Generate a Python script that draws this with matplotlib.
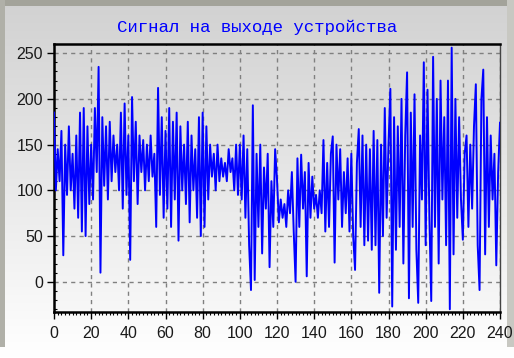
import numpy as np
import matplotlib
matplotlib.use("Agg")
import matplotlib.pyplot as plt
from matplotlib.patches import Rectangle
from matplotlib.ticker import MultipleLocator

title = "Сигнал на выходе устройства"
x_ticks = [0, 20, 40, 60, 80, 100, 120, 140, 160, 180, 200, 220, 240]
y_ticks = [0, 50, 100, 150, 200, 250]

signal = [
    185, 100, 145, 110, 165, 29, 150, 95, 170, 100,
    140, 80, 160, 70, 185, 55, 190, 50, 170, 85,
    150, 90, 190, 120, 235, 10, 180, 105, 170, 90,
    175, 110, 160, 120, 150, 100, 185, 80, 195, 95,
    160, 24, 202, 110, 175, 85, 160, 120, 155, 100,
    150, 110, 160, 115, 140, 60, 212, 95, 180, 70,
    165, 80, 190, 60, 175, 90, 185, 45, 170, 100,
    150, 85, 175, 65, 160, 100, 145, 70, 180, 50,
    185, 60, 170, 90, 150, 115, 140, 100, 150, 110,
    135, 115, 130, 110, 145, 120, 135, 100, 150, 95,
    150, 90, 160, 70, 145, 40, -9, 193, 2, 140,
    60, 150, 31, 125, 80, 140, 16, 110, 60, 145,
    112, 65, 90, 70, 85, 60, 100, 75, 120, 55,
    0, 135, 60, 139, 80, 120, 6, 130, 70, 115,
    80, 95, 70, 100, 75, 155, 55, 130, 60, 140,
    159, 21, 150, 90, 145, 60, 120, 75, 135, 55,
    140, 50, 13, 130, 167, 60, 160, 40, 150, 45,
    145, 35, 165, 40, 155, -12, 150, 50, 190, 70,
    150, 211, -27, 180, 35, 170, 60, 200, 20, 160,
    229, -18, 185, 60, 205, 35, -23, 160, 90, 240,
    40, 210, 70, -21, 246, 60, 200, 20, 220, 90,
    180, 40, 220, -30, 256, 30, 200, 70, 180, 90,
    46, 140, 160, 60, 150, 80, 170, 216, 40, -9,
    200, 232, 30, 180, 60, 160, 90, 140, 18, 120,
    174,
]
t = list(range(len(signal)))

W, H = 514, 358
fig = plt.figure(figsize=(W / 100, H / 100), dpi=100)

# background panel with gradient and gray frame
bg = fig.add_axes([0, 0, 1, 1], zorder=-10)
grad = np.linspace(0.82, 1.0, 256).reshape(-1, 1)
bg.imshow(np.dstack([grad, grad, grad]), aspect="auto", extent=[0, 1, 0, 1],
          origin="upper")
bg.add_patch(Rectangle((0, 1 - 6 / H), 1, 6 / H, color="#a3a39a", lw=0))
bg.add_patch(Rectangle((0, 0.03), 5 / W, 0.97, color="#b0b0a8", lw=0))
bg.add_patch(Rectangle((1 - 7 / W, 0.03), 7 / W, 0.97, color="#c8c8c2", lw=0))
bg.set_xlim(0, 1)
bg.set_ylim(0, 1)
bg.axis("off")

ax = fig.add_axes([54 / W, 46 / H, 446 / W, 268 / H])
ax.set_xlim(0, 240)
ax.set_ylim(-33, 260)
ag = np.linspace(0.84, 0.97, 256).reshape(-1, 1)
ax.imshow(np.dstack([ag, ag, ag]), aspect="auto", extent=[0, 240, -33, 260],
          origin="upper", zorder=0)

ax.plot(t, signal, color="#0000ff", lw=1.4, zorder=3)

ax.set_xticks(x_ticks)
ax.set_yticks(y_ticks)
ax.xaxis.set_minor_locator(MultipleLocator(2))
ax.yaxis.set_minor_locator(MultipleLocator(10))
ax.grid(True, which="major", color="#808080", ls=(0, (3, 3)), lw=1.0, zorder=1)
ax.tick_params(which="major", direction="out", length=5, width=1,
               labelsize=11.5, colors="#000000")
ax.tick_params(axis="x", which="major", pad=5)
ax.tick_params(axis="y", which="major", pad=3)
ax.tick_params(axis="x", which="minor", direction="out", length=2.5, width=0.8)
ax.tick_params(axis="y", which="minor", direction="in", length=2.5, width=0.8)
for lab in ax.get_xticklabels() + ax.get_yticklabels():
    lab.set_fontfamily("Liberation Sans")
    lab.set_color("#1a1a1a")

for s in ["left", "bottom", "top"]:
    ax.spines[s].set_linewidth(1.8)
    ax.spines[s].set_color("#000000")
ax.spines["right"].set_linewidth(1.0)
ax.spines["right"].set_color("#444444")

fig.text(0.5, 1 - 27 / H, title, ha="center", va="center", color="#0000ff",
         fontsize=12.5, fontfamily="Liberation Mono")

fig.savefig("out.png", dpi=100)
